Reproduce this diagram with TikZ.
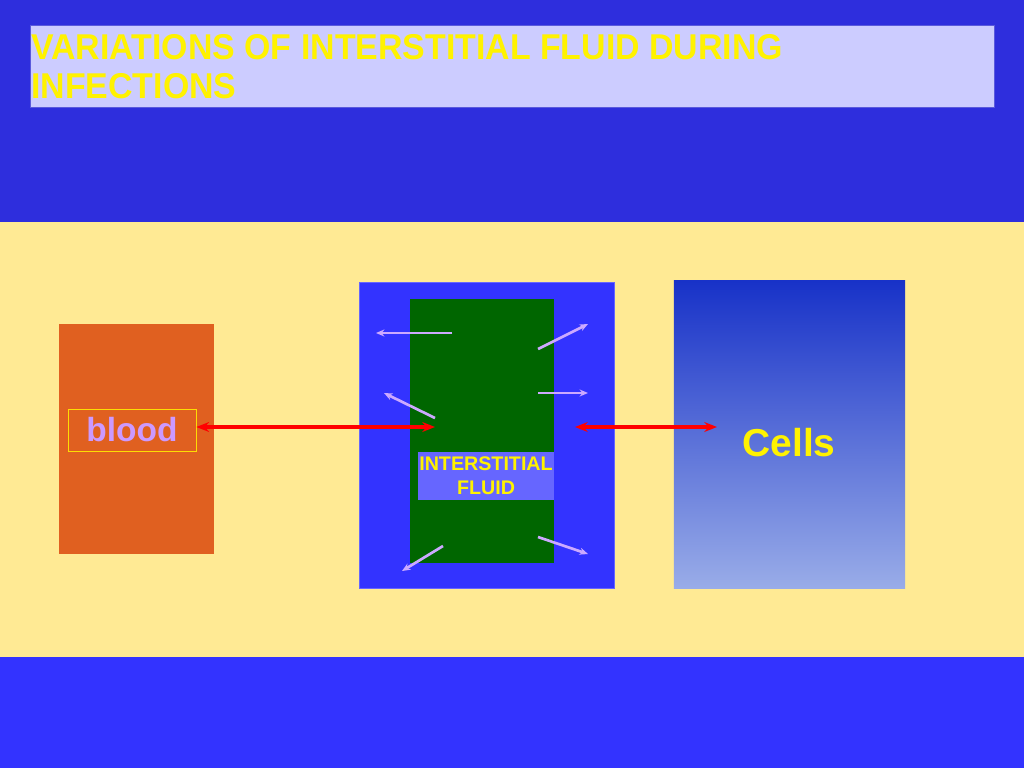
\documentclass[tikz,border=0pt]{standalone}
\usepackage{fontspec}
\setmainfont{Liberation Sans}
\newfontfamily\narrowfont[FakeStretch=0.945]{Liberation Sans}
\usetikzlibrary{arrows.meta}

\definecolor{bandtop}{RGB}{46,46,221}
\definecolor{bandmid}{RGB}{255,234,148}
\definecolor{bandlow}{RGB}{51,51,255}
\definecolor{titlefill}{RGB}{204,204,255}
\definecolor{titleline}{RGB}{90,90,220}
\definecolor{bloodfill}{RGB}{224,96,32}
\definecolor{bloodtext}{RGB}{204,153,255}
\definecolor{fluidgreen}{RGB}{0,102,0}
\definecolor{fluidlabel}{RGB}{102,102,255}
\definecolor{flowline}{RGB}{204,170,255}
\definecolor{cellstop}{RGB}{24,50,200}
\definecolor{cellslow}{RGB}{153,172,232}

\begin{document}
\begin{tikzpicture}[x=0.025cm, y=-0.025cm]
    \tikzstyle{panel}    = [rectangle, inner sep=0pt]
    \tikzstyle{heading}  = [text=yellow, font=\narrowfont\bfseries\fontsize{25.5}{27.6}\selectfont, align=left, inner sep=0pt]
    \tikzstyle{label}    = [text=yellow, font=\bfseries, align=center, inner sep=0pt]
    \tikzstyle{exchange} = [{Stealth[length=9pt,width=7pt]}-{Stealth[length=9pt,width=7pt]}, draw=red, fill=red, line width=2.4pt]
    \tikzstyle{flow}     = [-{Stealth[length=6pt,width=5pt]}, draw=flowline, fill=flowline, line width=1.9pt]

    \useasboundingbox (0,0) rectangle (1024,768);

    % background bands
    \fill[bandtop] (0,0) rectangle (1024,222);
    \fill[bandmid] (0,222) rectangle (1024,657);
    \fill[bandlow] (0,657) rectangle (1024,768);

    % title
    \node[panel, fill=titlefill, draw=titleline, line width=0.5pt,
          minimum width=24.1cm, minimum height=2.05cm] (titlebox) at (512,66) {};
    \node[heading, anchor=north west] (title) at (31,34)
        {VARIATIONS OF INTERSTITIAL FLUID DURING\\INFECTIONS};

    % blood
    \node[panel, fill=bloodfill, minimum width=3.875cm, minimum height=5.75cm] (blood) at (136.5,439) {};
    \node[panel, draw=yellow!80!orange, line width=0.5pt, text=bloodtext,
          font=\bfseries\fontsize{23.8}{26}\selectfont,
          minimum width=3.2cm, minimum height=1.05cm] (bloodlabel) at (132,430) {blood};

    % interstitial fluid
    \node[panel, fill=bandlow, draw=fluidlabel, line width=0.5pt,
          minimum width=6.375cm, minimum height=7.65cm] (space) at (486.5,435) {};
    \node[panel, fill=fluidgreen, minimum width=3.6cm, minimum height=6.6cm] (fluid) at (482,431) {};
    \node[label, fill=fluidlabel, font=\bfseries\fontsize{14}{17}\selectfont,
          minimum width=3.4cm, minimum height=1.2cm] (fluidlabel) at (486,476) {INTERSTITIAL\\FLUID};

    % cells
    \node[panel, top color=cellstop, bottom color=cellslow,
          minimum width=5.775cm, minimum height=7.675cm] (cells) at (789.5,434.5) {};
    \node[label, font=\bfseries\fontsize{27.7}{30}\selectfont] (cellslabel) at (789,443) {Cells};

    % exchange
    \coordinate (fluidin)  at (435,427);
    \coordinate (fluidout) at (575,427);
    \coordinate (cellsin)  at (717,427);
    \draw[exchange] (bloodlabel.east |- fluidin) -- (fluidin);
    \draw[exchange] (fluidout) -- (cellsin);

    % flows out of the fluid
    \coordinate (f1a) at (452,333); \coordinate (f1b) at (376,333);
    \coordinate (f2a) at (538,349); \coordinate (f2b) at (588,324);
    \coordinate (f3a) at (538,393); \coordinate (f3b) at (588,393);
    \coordinate (f4a) at (435,418); \coordinate (f4b) at (384,393);
    \coordinate (f5a) at (538,537); \coordinate (f5b) at (588,554);
    \coordinate (f6a) at (443,546); \coordinate (f6b) at (402,571);
    \foreach \i in {1,...,6}
        \draw[flow] (f\i a) -- (f\i b);
\end{tikzpicture}
\end{document}
